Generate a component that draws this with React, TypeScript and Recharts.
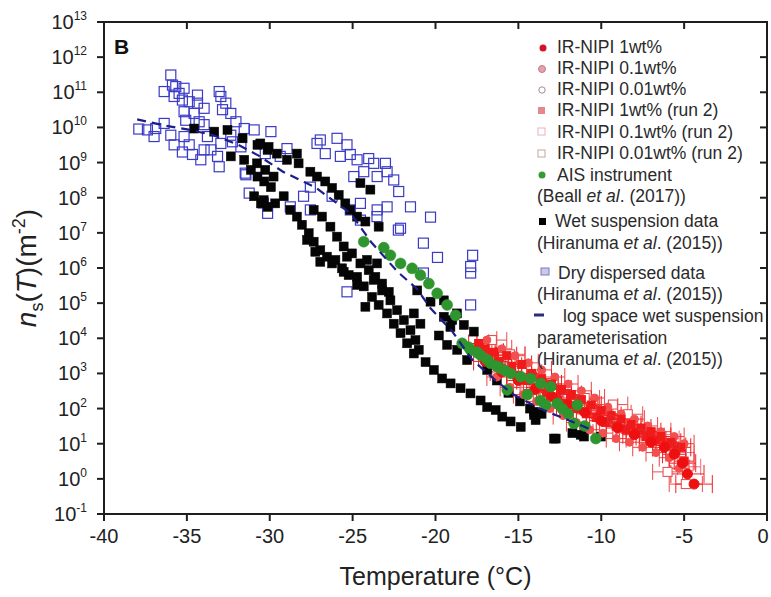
import React from 'react';
import { ScatterChart, Scatter, XAxis, YAxis, ErrorBar } from 'recharts';

type Pt = [number, number];
type ErrPt = [number, number, number];

const xTicks = [-40, -35, -30, -25, -20, -15, -10, -5, 0];
const yTicks = [1e-1, 1e0, 1e1, 1e2, 1e3, 1e4, 1e5, 1e6, 1e7, 1e8, 1e9, 1e10, 1e11, 1e12, 1e13];

// Hiranuma et al. (2015) dry dispersed data: [T (°C), ns (m^-2)]
const dryDispersed: Pt[] = [
  [-35.97, 3.1e11], [-35.87, 1.6e11], [-36.37, 1.05e11], [-35.67, 1.45e11], [-35.17, 1.3e11],
  [-35.77, 7.6e10], [-35.27, 6.0e10], [-35.47, 9.3e10], [-34.36, 8.3e10], [-34.86, 5.4e10],
  [-34.36, 4.9e10], [-33.96, 3.5e10], [-33.05, 1.05e11], [-32.95, 7.6e10], [-32.65, 4.9e10],
  [-32.85, 3.2e10], [-32.35, 2.5e10], [-35.17, 2.8e10], [-34.56, 2.5e10], [-35.07, 1.6e10],
  [-34.26, 1.45e10], [-33.96, 1.2e10], [-37.38, 8.5e9], [-36.88, 9.3e9], [-36.98, 5.5e9],
  [-35.97, 6.0e9], [-35.77, 3.2e9], [-35.17, 5.5e9], [-34.86, 3.2e9], [-35.27, 2.0e9],
  [-34.66, 1.7e9], [-33.96, 2.3e9], [-33.55, 2.3e9], [-34.16, 1.2e9], [-33.15, 1.5e9],
  [-33.05, 7.6e8], [-32.95, 3.5e9], [-32.25, 3.9e9], [-31.54, 9.3e9], [-30.94, 8.5e9],
  [-32.04, 1.45e10], [-31.44, 4.5e8], [-31.24, 1.35e8], [-30.13, 3.6e7], [-29.93, 7.6e9],
  [-32.35, 6.0e9], [-33.76, 5.5e9], [-36.37, 1.3e10], [-31.74, 2.8e9], [-30.27, 1.8e9],
  [-28.96, 2.5e9], [-29.37, 1.5e9], [-27.15, 3.5e9], [-26.65, 1.8e9], [-25.94, 4.9e9],
  [-25.34, 3.2e9], [-25.74, 1.5e9], [-25.14, 1.7e9], [-24.73, 1.2e9], [-24.03, 1.3e9],
  [-23.73, 9.5e8], [-23.02, 9.5e8], [-22.92, 5.5e8], [-23.52, 4.0e8], [-24.33, 5.5e8],
  [-24.93, 4.0e8], [-22.52, 3.2e8], [-22.22, 1.5e8], [-22.92, 5.5e7], [-23.52, 4.5e7],
  [-24.53, 2.3e7], [-25.14, 4.5e7], [-26.24, 1.1e8], [-27.55, 2.0e8], [-27.96, 1.1e8],
  [-28.76, 5.5e7], [-21.51, 5.5e7], [-22.11, 1.35e7], [-25.34, 2.1e5], [-20.3, 2.8e7],
  [-22.24, 1.2e7], [-20.73, 5.1e6], [-19.88, 2.0e6], [-17.76, 2.3e6], [-17.88, 1.1e6],
  [-17.88, 7.2e5], [-17.88, 8.9e4], [-20.73, 7.2e5], [-31.48, 5.0e8], [-27.55, 4.5e7],
  [-30.39, 7.1e7], [-26.95, 4.4e9], [-23.53, 2.9e7], [-24.53, 6.9e7], [-37.9, 9.0e9],
];

// Hiranuma et al. (2015) wet suspension data
const wetSuspension: Pt[] = [
  [-34.56, 9.3e9], [-33.35, 7.6e9], [-32.55, 8.5e9], [-31.64, 4.9e9], [-30.74, 3.2e9],
  [-30.13, 2.3e9], [-32.35, 1.5e9], [-31.54, 1.2e9], [-31.14, 6.2e8], [-30.74, 4.0e8],
  [-30.33, 2.9e8], [-29.93, 2.0e8], [-30.94, 1.1e8], [-30.53, 6.9e7], [-30.13, 5.5e7],
  [-30.57, 3.5e9], [-30.07, 2.8e9], [-29.57, 1.8e9], [-28.96, 1.2e9], [-28.36, 1.8e9],
  [-28.26, 9.5e8], [-30.77, 9.5e8], [-30.27, 6.2e8], [-29.77, 4.0e8], [-30.37, 8.5e7],
  [-29.67, 6.9e7], [-29.16, 1.1e8], [-28.76, 4.5e7], [-28.36, 2.9e7], [-28.06, 1.7e7],
  [-27.65, 9.8e6], [-27.35, 5.6e6], [-26.95, 3.2e6], [-26.55, 2.1e6], [-26.04, 1.7e6],
  [-25.64, 9.8e5], [-25.24, 6.3e5], [-27.55, 5.5e8], [-27.15, 4.0e8], [-26.65, 2.9e8],
  [-26.24, 1.9e8], [-25.84, 1.2e8], [-25.44, 6.9e7], [-25.14, 4.5e7], [-24.73, 2.9e7],
  [-24.23, 2.1e7], [-27.35, 4.5e7], [-26.85, 2.9e7], [-26.34, 1.5e7], [-25.94, 7.8e6],
  [-25.54, 4.1e6], [-25.04, 2.6e6], [-24.53, 1.35e6], [-24.03, 8.7e5], [-23.63, 5.6e5],
  [-23.22, 3.6e5], [-22.82, 2.1e5], [-24.53, 2.6e8], [-23.93, 1.7e8], [-23.43, 1.5e7],
  [-24.73, 5.6e5], [-24.33, 3.0e5], [-23.83, 1.5e5], [-23.43, 8.9e4], [-27.75, 6.3e6],
  [-27.25, 2.9e6], [-26.95, 1.5e6], [-26.24, 1.35e6], [-25.54, 7.8e5], [-24.73, 3.3e5],
  [-24.23, 7.9e4], [-23.73, 4.6e5], [-23.22, 2.3e5], [-22.72, 1.2e5], [-22.32, 6.3e4],
  [-21.91, 3.3e4], [-21.51, 1.7e4], [-21.21, 8.9e3], [-21.01, 4.7e3], [-22.92, 5.1e4],
  [-22.52, 2.6e4], [-22.11, 1.4e4], [-21.71, 7.2e3], [-21.31, 3.7e3], [-25.34, 2.1e6],
  [-24.13, 1.7e6], [-23.53, 1.35e6], [-20.6, 2.1e3], [-20.1, 1.26e3], [-19.6, 7.2e2],
  [-19.09, 5.2e2], [-18.49, 3.8e2], [-17.89, 2.7e2], [-17.28, 1.7e2], [-16.88, 1.1e2],
  [-16.37, 91], [-15.97, 59], [-15.47, 43], [-14.86, 30], [-21.31, 5.1e4],
  [-20.91, 2.6e4], [-19.8, 1.2e4], [-19.3, 6.5e3], [-18.69, 4.7e3], [-18.09, 2.4e3],
  [-17.69, 1.55e4], [-18.29, 2.4e4], [-18.99, 3.3e4], [-16.88, 1.26e3], [-14.06, 81],
  [-12.85, 14], [-11.74, 20], [-11.24, 18], [-19.5, 1.2e5], [-18.7, 5.1e4],
  [-21.1, 2.3e5], [-20.3, 1.1e5], [-19.5, 4.1e4], [-19.1, 2.1e4], [-14.06, 66],
  [-13.96, 47], [-12.75, 14], [-11.04, 16], [-10.03, 16], [-16.3, 6.3e2],
  [-15.6, 2.8e2], [-14.9, 1.6e2], [-14.3, 1.0e2], [-13.6, 71],
];

// AIS instrument, Beall et al. (2017)
const aisBeall: Pt[] = [
  [-24.33, 5.6e6], [-23.12, 3.8e6], [-22.72, 2.3e6], [-22.11, 1.35e6], [-21.41, 9.8e5],
  [-20.91, 6.3e5], [-20.4, 3.6e5], [-19.9, 1.9e5], [-19.3, 8.9e4], [-18.79, 4.5e4],
  [-18.39, 7.2e3], [-17.89, 4.7e3], [-17.28, 3.3e3], [-16.68, 1.95e3], [-16.07, 1.4e3],
  [-15.47, 1.0e3], [-14.86, 8.1e2], [-14.26, 7.2e2], [-13.66, 5.2e2], [-13.05, 4.2e2],
  [-15.67, 3.4e2], [-14.46, 2.5e2], [-13.66, 1.7e2], [-12.65, 1.4e2], [-11.64, 38],
  [-13.35, 1.26e2], [-12.35, 1.0e2], [-11.44, 1.26e2], [-10.33, 14], [-18.0, 5.6e3],
  [-17.5, 4.0e3], [-16.9, 2.5e3], [-16.3, 1.6e3], [-15.8, 1.2e3], [-12.0, 71],
  [-11.0, 32],
];

// log space wet suspension parameterisation, Hiranuma et al. (2015)
const logSpaceFit: Pt[] = [
  [-38.0, 1.7e10], [-36.5, 1.17e10], [-34.8, 8.5e9], [-33.4, 6.0e9], [-31.9, 3.2e9],
  [-30.7, 1.6e9], [-29.2, 5.5e8], [-27.2, 1.9e8], [-25.1, 3.5e7], [-23.9, 5.6e6],
  [-22.3, 7.9e5], [-21.1, 2.5e5], [-20.3, 7.1e4], [-19.0, 1.6e4], [-17.8, 2.5e3],
  [-16.5, 7.1e2], [-15.3, 2.5e2], [-13.7, 1.0e2], [-12.0, 47], [-10.6, 25],
];

// IR-NIPI series: [T (°C), ns (m^-2), T uncertainty (°C)]
const nipi1wt: ErrPt[] = [
  [-4.4, 0.71, 1.1], [-4.8, 1.38, 1.0], [-5.1, 2.8, 0.8], [-5.6, 5.0, 0.7], [-6.2, 7.9, 0.7],
  [-7.0, 11, 0.7], [-8.0, 18, 0.7], [-9.0, 28, 0.7], [-10.0, 45, 0.7], [-11.0, 79, 0.7],
  [-12.0, 126, 0.7], [-13.0, 220, 0.7], [-14.0, 350, 0.7], [-15.0, 630, 0.7], [-16.0, 1100, 0.7],
  [-17.0, 2200, 0.7],
];

const nipi01wt: ErrPt[] = [
  [-16.9, 8.9e3, 0.6], [-16.0, 5.0e3, 0.6], [-15.2, 3.2e3, 0.6], [-14.4, 2.0e3, 0.6], [-13.6, 1.26e3, 0.6],
  [-12.8, 7.9e2, 0.6], [-12.0, 5.0e2, 0.6], [-11.2, 3.2e2, 0.6], [-10.4, 2.0e2, 0.6], [-9.6, 1.1e2, 0.6],
  [-8.8, 71, 0.6], [-8.0, 50, 0.6], [-7.2, 32, 0.6], [-6.4, 22, 0.6], [-5.6, 16, 0.6],
  [-5.0, 10, 0.6], [-16.3, 7.9e2, 0.6], [-15.5, 4.0e2, 0.6], [-14.7, 2.5e2, 0.6], [-13.9, 1.6e2, 0.6],
  [-13.1, 1.0e2, 0.6], [-12.3, 63, 0.6], [-11.5, 40, 0.6], [-10.7, 25, 0.6], [-9.9, 20, 0.6],
  [-9.1, 14, 0.6], [-8.3, 11, 0.6], [-7.5, 7.9, 0.6], [-6.7, 5.6, 0.6], [-5.9, 4.0, 0.6],
  [-5.3, 2.0, 0.6],
];

const nipi001wt: ErrPt[] = [
  [-15.8, 2.0e3, 0.6], [-13.2, 4.0e2, 0.6], [-11.4, 1.6e2, 0.6], [-9.4, 50, 0.6], [-7.6, 20, 0.6],
  [-5.5, 8.9, 0.6],
];

const nipi1wtRun2: ErrPt[] = [
  [-17.4, 7.1e3, 0.6], [-17.0, 5.0e3, 0.6], [-16.8, 2.8e3, 0.6], [-16.5, 4.0e3, 0.6], [-16.2, 2.2e3, 0.6],
  [-16.0, 1.4e3, 0.6], [-15.7, 3.2e3, 0.6], [-15.4, 1.6e3, 0.6], [-15.1, 8.9e2, 0.6], [-14.8, 1.8e3, 0.6],
  [-14.5, 6.3e2, 0.6], [-14.2, 1.0e3, 0.6], [-13.9, 4.0e2, 0.6], [-13.6, 7.1e2, 0.6], [-13.3, 2.8e2, 0.6],
  [-13.0, 5.0e2, 0.6], [-12.7, 2.0e2, 0.6], [-12.4, 3.5e2, 0.6], [-12.1, 1.4e2, 0.6], [-11.8, 2.5e2, 0.6],
  [-11.5, 1.0e2, 0.6], [-11.2, 1.8e2, 0.6], [-10.9, 71, 0.6], [-10.6, 126, 0.6], [-10.3, 56, 0.6],
  [-10.0, 89, 0.6], [-9.7, 40, 0.6], [-9.4, 63, 0.6], [-9.1, 32, 0.6], [-8.8, 50, 0.6],
  [-8.5, 25, 0.6], [-8.2, 35, 0.6], [-7.9, 20, 0.6], [-7.6, 28, 0.6], [-7.3, 16, 0.6],
  [-7.0, 22, 0.6], [-6.7, 12.6, 0.6], [-6.4, 16, 0.6], [-6.1, 8.9, 0.6], [-5.8, 11, 0.6],
  [-5.5, 6.3, 0.6], [-5.2, 7.9, 0.6], [-5.0, 3.2, 0.6],
];

const nipi01wtRun2: ErrPt[] = [
  [-14.6, 4.0e2, 0.7], [-12.5, 1.8e2, 0.7], [-10.2, 71, 0.7], [-8.3, 32, 0.7], [-6.0, 14, 0.7],
  [-5.1, 5.6, 0.7], [-4.7, 2.2, 0.7],
];

const nipi001wtRun2: ErrPt[] = [
  [-16.6, 8.9e3, 0.9], [-15.5, 3.5e3, 0.9], [-11.0, 2.0e2, 0.9], [-9.3, 1.3e2, 0.9], [-8.4, 69, 0.9],
  [-6.0, 1.58, 0.9], [-4.9, 0.71, 1.0],
];

const toRows = (pts: Pt[]) => pts.map(([t, ns]) => ({ t, ns }));
const toErrRows = (pts: ErrPt[]) => pts.map(([t, ns, err]) => ({ t, ns, err }));

const FONT = "Arial, 'Liberation Sans', sans-serif";
const AXIS = '#1e1e1e';
const RED = '#f01a1a';
const TICK = 7;

const W = 771;
const H = 597;
const MARGIN = { top: 22, right: 4, bottom: 0, left: 0 };
const Y_AXIS_W = 104;
const X_AXIS_H = 83;
const PLOT_TOP = MARGIN.top;
const PLOT_RIGHT = W - MARGIN.right;
const PLOT_LEFT = MARGIN.left + Y_AXIS_W;
const PLOT_BOTTOM = H - MARGIN.bottom - X_AXIS_H;

const square = (size: number, fill: string, stroke: string, sw = 1) => (p: any) =>
  p.cx == null ? <g /> : (
    <rect x={p.cx - size / 2} y={p.cy - size / 2} width={size} height={size} fill={fill} stroke={stroke} strokeWidth={sw} />
  );

const circle = (r: number, fill: string, stroke: string, sw = 1) => (p: any) =>
  p.cx == null ? <g /> : <circle cx={p.cx} cy={p.cy} r={r} fill={fill} stroke={stroke} strokeWidth={sw} />;

const noShape = () => <g />;

// bottom tick label, plus the matching inward tick on the top edge of the frame
const XTick = (p: any) => {
  const v = p.payload.value;
  return (
    <g>
      <rect x={p.x - 1} y={PLOT_TOP} width={2} height={TICK} fill={AXIS} />
      {/* the 0 label sits on the page edge, nudge it inward so it stays readable */}
      <text x={Math.min(p.x, W - 8)} y={p.y + 22} textAnchor="middle" fontSize={20} fontFamily={FONT} fill="#222">
        {v}
      </text>
    </g>
  );
};

// left tick label (10^n), plus the matching inward tick on the right edge
const YTick = (p: any) => {
  const exp = Math.round(Math.log10(p.payload.value));
  return (
    <g>
      <rect x={PLOT_RIGHT - TICK} y={p.y - 1} width={TICK} height={2} fill={AXIS} />
      <text x={p.x - 10} y={p.y + 7} textAnchor="end" fontSize={20} fontFamily={FONT} fill="#222">
        10<tspan dy={-9} fontSize={12}>{exp}</tspan>
      </text>
    </g>
  );
};

const Legend = () => {
  const t = { fontSize: 17.5, fontFamily: FONT, fill: '#2a2a2a' } as const;
  const ref = (y: number) => (
    <text x={537} y={y} {...t}>
      (Hiranuma <tspan fontStyle="italic">et al</tspan>. (2015))
    </text>
  );
  return (
    <g>
      <circle cx={543} cy={48} r={3.5} fill="#d4102a" />
      <text x={557} y={53} {...t}>IR-NIPI 1wt%</text>
      <circle cx={542} cy={69} r={3.5} fill="#e6a2aa" stroke="#c07a84" />
      <text x={557} y={74} {...t}>IR-NIPI 0.1wt%</text>
      <circle cx={542} cy={90} r={3.2} fill="none" stroke="#a88a8a" />
      <text x={557} y={95} {...t}>IR-NIPI 0.01wt%</text>
      <rect x={538} y={107} width={7} height={7} fill="#e48890" />
      <text x={557} y={116} {...t}>IR-NIPI 1wt% (run 2)</text>
      <rect x={538} y={128} width={7} height={7} fill="none" stroke="#eab0c2" />
      <text x={557} y={138} {...t}>IR-NIPI 0.1wt% (run 2)</text>
      <rect x={538} y={150} width={7} height={7} fill="none" stroke="#c4a6a0" />
      <text x={557} y={159} {...t}>IR-NIPI 0.01wt% (run 2)</text>
      <circle cx={542} cy={175} r={3.5} fill="#3a9a3a" />
      <text x={557} y={181} {...t}>AIS instrument</text>
      <text x={537} y={202} {...t}>
        (Beall <tspan fontStyle="italic">et al</tspan>. (2017))
      </text>
      <rect x={539} y={218} width={7} height={7} fill="#000" />
      <text x={555} y={227} {...t}>Wet suspension data</text>
      {ref(249)}
      <rect x={541} y={268} width={8} height={7} fill="#c9c9ea" stroke="#7a7ac8" />
      <text x={558} y={279} {...t}>Dry dispersed data</text>
      {ref(300)}
      <line x1={534} x2={544} y1={315} y2={315} stroke="#2c2c7a" strokeWidth={3} />
      <text x={563} y={322} {...t}>log space wet suspension</text>
      <text x={537} y={344} {...t}>parameterisation</text>
      {ref(365)}
    </g>
  );
};

const edge: React.CSSProperties = { position: 'absolute', background: AXIS, pointerEvents: 'none' };

export default function App() {
  return (
    <div style={{ position: 'absolute', left: 0, top: 0, width: W, height: H, background: '#fff', overflow: 'hidden' }}>
      <ScatterChart width={W} height={H} margin={MARGIN}>
        <XAxis
          type="number"
          dataKey="t"
          domain={[-40, 0]}
          ticks={xTicks}
          allowDataOverflow
          height={X_AXIS_H}
          tickSize={TICK}
          tickMargin={0}
          tick={XTick}
          axisLine={{ stroke: AXIS, strokeWidth: 2 }}
          tickLine={{ stroke: AXIS, strokeWidth: 2 }}
          label={{ value: 'Temperature (°C)', position: 'insideBottom', offset: 12, fontSize: 25, fontFamily: FONT, fill: '#222' }}
        />
        <YAxis
          type="number"
          dataKey="ns"
          scale="log"
          domain={[0.1, 1e13]}
          ticks={yTicks}
          allowDataOverflow
          width={Y_AXIS_W}
          tickSize={TICK}
          tickMargin={0}
          tick={YTick}
          axisLine={{ stroke: AXIS, strokeWidth: 2 }}
          tickLine={{ stroke: AXIS, strokeWidth: 2 }}
        />

        <Scatter name="Dry dispersed data" data={toRows(dryDispersed)} shape={square(10, 'none', '#3b3bc6', 1.2)} isAnimationActive={false} />
        <Scatter name="Wet suspension data" data={toRows(wetSuspension)} shape={square(9, '#050505', '#050505', 0.5)} isAnimationActive={false} />

        <Scatter name="IR-NIPI 0.01wt% (run 2)" data={toErrRows(nipi001wtRun2)} shape={square(9, '#fff', '#e04848', 1)} isAnimationActive={false}>
          <ErrorBar dataKey="err" direction="x" width={8} stroke="#e85050" strokeWidth={1} />
        </Scatter>
        <Scatter name="IR-NIPI 0.1wt% (run 2)" data={toErrRows(nipi01wtRun2)} shape={square(8, 'none', '#f06a80', 1)} isAnimationActive={false}>
          <ErrorBar dataKey="err" direction="x" width={8} stroke="#f06a80" strokeWidth={1} />
        </Scatter>
        <Scatter name="IR-NIPI 0.1wt%" data={toErrRows(nipi01wt)} shape={circle(4, '#f25050', '#f25050')} isAnimationActive={false}>
          <ErrorBar dataKey="err" direction="x" width={9} stroke="#f24040" strokeWidth={1} />
        </Scatter>
        <Scatter name="IR-NIPI 1wt% (run 2)" data={toErrRows(nipi1wtRun2)} shape={square(8, RED, RED)} isAnimationActive={false}>
          <ErrorBar dataKey="err" direction="x" width={9} stroke={RED} strokeWidth={1} />
        </Scatter>
        <Scatter name="IR-NIPI 0.01wt%" data={toErrRows(nipi001wt)} shape={circle(4, 'none', '#d83030')} isAnimationActive={false}>
          <ErrorBar dataKey="err" direction="x" width={8} stroke="#e03030" strokeWidth={1} />
        </Scatter>
        <Scatter name="IR-NIPI 1wt%" data={toErrRows(nipi1wt)} shape={circle(5, '#ee1010', '#ee1010')} isAnimationActive={false}>
          <ErrorBar dataKey="err" direction="x" width={9} stroke="#ee2020" strokeWidth={1} />
        </Scatter>

        <Scatter name="AIS instrument" data={toRows(aisBeall)} shape={circle(5.5, '#2f952f', '#2f952f', 0.5)} isAnimationActive={false} />
        <Scatter
          name="log space wet suspension parameterisation"
          data={toRows(logSpaceFit)}
          shape={noShape}
          line={{ stroke: '#1d1d8c', strokeWidth: 2.2, strokeDasharray: '9 6' }}
          isAnimationActive={false}
        />
      </ScatterChart>

      {/* top and right edges of the frame */}
      <div style={{ ...edge, left: PLOT_LEFT, top: PLOT_TOP - 1, width: PLOT_RIGHT - PLOT_LEFT + 1, height: 2 }} />
      <div style={{ ...edge, left: PLOT_RIGHT - 1, top: PLOT_TOP - 1, width: 2, height: PLOT_BOTTOM - PLOT_TOP + 2 }} />

      <svg width={W} height={H} style={{ position: 'absolute', left: 0, top: 0, pointerEvents: 'none' }}>
        <text x={114} y={54} fontSize={21} fontWeight="bold" fontFamily={FONT} fill="#111">B</text>
        <text transform="translate(36, 268) rotate(-90)" textAnchor="middle" fontSize={28} fontFamily={FONT} fill="#222">
          <tspan fontStyle="italic">n</tspan>
          <tspan dy={7} fontSize={18}>s</tspan>
          <tspan dy={-7}>(</tspan>
          <tspan fontStyle="italic">T</tspan>
          <tspan>)(m</tspan>
          <tspan dy={-11} fontSize={18}>-2</tspan>
          <tspan dy={11}>)</tspan>
        </text>
        <Legend />
      </svg>
    </div>
  );
}
